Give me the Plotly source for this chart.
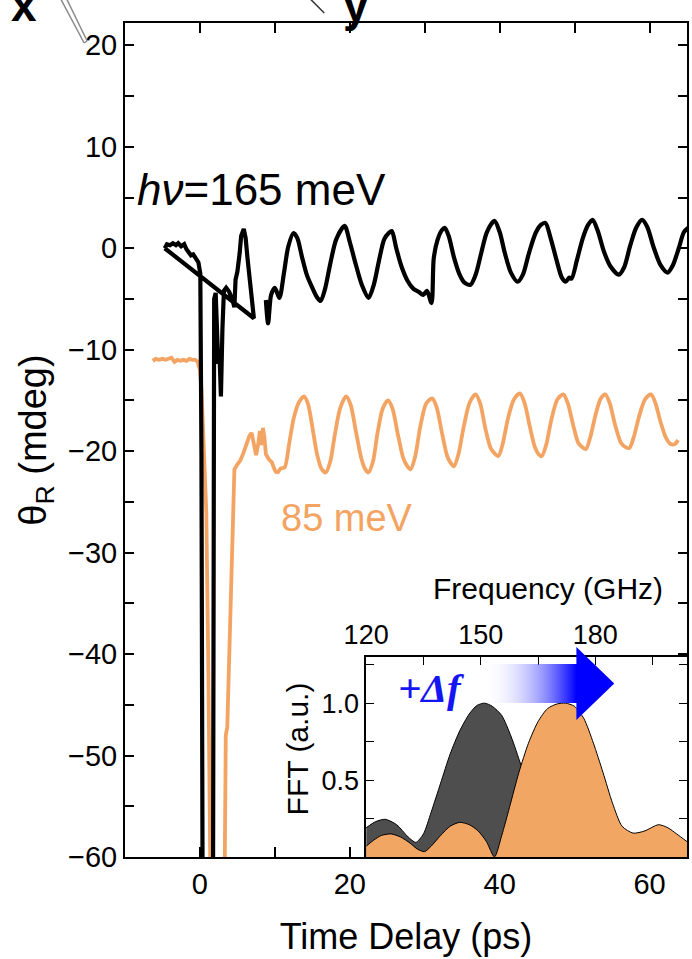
import base64
import plotly.graph_objects as go

# ---------------- time-domain Kerr rotation (ps, mdeg) ----------------
# 165 meV pump: first segment (closes back on itself as recorded)
t_165a = [-4.7, -4.4, -4.0, -3.6, -3.2, -2.9, -2.5, -2.1, -1.8, -1.5, -1.2, -0.9,
          -0.5, -0.2, 0.05, 0.2, 0.35, 1.75, 1.9, 2.1, 2.3, 2.45, 2.6, 2.8, 3.0,
          3.2, 3.5, 3.9, 4.3, 4.6, 4.75, 5.0, 5.3, 5.5, 5.85, 6.1, 6.35, 6.6,
          6.9, 7.2, -4.7]
y_165a = [0.0, 0.4, 0.3, 0.5, 0.3, 0.5, 0.2, 0.4, -0.1, -0.5, -0.7, -0.6,
          -1.0, -1.4, -2.5, -20.0, -62.0, -62.0, -5.0, -4.4, -8.5, -11.4, -10.2,
          -14.6, -8.0, -4.2, -3.9, -4.3, -5.0, -5.8, -3.1, -2.3, -0.5, 1.2, 1.9,
          1.0, -1.0, -3.0, -5.2, -6.9, 0.0]

# 165 meV pump: oscillating tail
t_165b = [8.8, 9.1, 9.5, 10.0, 10.6, 11.2, 11.8, 12.5, 13.0, 13.6, 14.3, 15.0,
          15.6, 16.1, 16.7, 17.4, 18.2, 19.3, 20.0, 20.8, 21.6, 22.5, 23.2, 23.9,
          24.6, 25.2, 25.6, 26.2, 26.9, 27.7, 28.5, 29.2, 29.8, 30.3, 30.9, 31.2,
          31.7, 32.3, 32.7, 33.2, 33.9, 34.6, 35.3, 36.1, 36.8, 37.5, 38.3, 39.3,
          40.0, 40.7, 41.5, 42.4, 43.1, 43.9, 44.8, 45.5, 46.1, 46.8, 47.6, 48.3,
          48.8, 49.3, 49.6, 50.3, 51.1, 51.8, 52.4, 53.1, 53.9, 54.8, 55.9, 56.6,
          57.4, 58.2, 59.0, 59.7, 60.5, 61.5, 62.4, 63.1, 63.9, 64.6, 65.3]
y_165b = [-5.1, -7.4, -4.6, -3.9, -4.9, -2.5, 0.2, 1.5, 1.0, -0.8, -2.7, -3.9,
          -4.8, -5.2, -4.0, -1.5, 0.9, 2.2, 0.6, -1.6, -3.6, -4.9, -3.6, -1.2,
          0.9, 1.5, 1.7, 0.0, -1.8, -3.2, -4.0, -4.3, -4.6, -4.2, -5.4, -1.0,
          0.8, 1.8, 2.0, 1.2, -0.9, -2.5, -3.4, -3.6, -2.6, -0.6, 1.6, 2.7,
          1.6, -0.5, -2.4, -3.3, -2.6, -0.5, 1.5, 2.3, 2.5, 1.0, -1.2, -2.9,
          -3.3, -2.9, -3.0, -1.2, 1.0, 2.3, 2.8, 1.7, -0.3, -1.8, -2.6, -1.9,
          0.2, 2.0, 2.8, 2.1, 0.2, -1.7, -2.4, -1.7, 0.0, 1.6, 2.1]

# 85 meV pump: baseline, pump spike and recovery
t_85a = [-6.3, -5.9, -5.5, -5.0, -4.6, -4.2, -3.8, -3.4, -3.0, -2.6, -2.2, -1.8,
         -1.4, -1.0, -0.6, -0.3, 0.0, 0.2, 0.35, 0.6, 0.85, 1.1, 1.4, 3.3, 3.45,
         3.65, 3.9, 4.2, 4.35, 4.45, 4.6, 5.0, 5.4, 5.8, 6.2, 6.6, 6.9, 7.2, 7.5,
         7.8, 8.0, 8.2, 8.4, 8.6, 8.8, 9.2, 9.6, 10.0, 10.3]
y_85a = [-11.1, -10.9, -11.0, -10.9, -11.0, -10.9, -10.8, -11.2, -11.0, -11.1,
         -11.0, -11.1, -10.9, -11.0, -11.0, -11.2, -12.0, -13.8, -16.4, -21.0,
         -26.0, -40.0, -62.0, -62.0, -48.0, -47.2, -40.0, -30.0, -25.5, -23.6,
         -21.8, -21.3, -20.9, -20.2, -19.2, -18.5, -18.2, -19.4, -20.4, -19.2,
         -18.0, -19.4, -17.7, -18.6, -20.3, -20.8, -21.1, -21.9, -22.2]

# 85 meV pump: oscillating tail
t_85b = [10.3, 10.8, 11.3, 11.9, 12.5, 13.2, 13.9, 14.4, 15.0, 15.6, 16.2, 16.8,
         17.4, 18.0, 18.7, 19.5, 20.1, 20.8, 21.5, 22.0, 22.5, 23.1, 23.7, 24.4,
         25.1, 25.7, 26.4, 27.1, 27.6, 28.1, 28.7, 29.4, 30.2, 31.0, 31.6, 32.3,
         33.0, 33.5, 33.9, 34.5, 35.2, 36.0, 36.8, 37.4, 38.1, 38.8, 39.3, 39.8,
         40.4, 41.1, 41.9, 42.7, 43.3, 44.0, 44.7, 45.2, 45.6, 46.2, 46.9, 47.7,
         48.5, 49.1, 49.8, 50.5, 51.0, 51.5, 52.1, 52.8, 53.5, 54.1, 54.7, 55.4,
         56.2, 56.8, 57.3, 57.9, 58.6, 59.4, 60.2, 60.8, 61.5, 62.2, 62.8, 63.4,
         63.8]
y_85b = [-22.2, -21.7, -21.6, -19.3, -16.8, -15.2, -14.6, -15.3, -17.6, -20.2,
         -21.7, -22.1, -21.0, -18.4, -15.8, -14.6, -15.4, -18.0, -20.6, -21.7,
         -22.1, -21.0, -18.2, -15.8, -15.0, -15.8, -18.3, -20.6, -21.4, -21.8,
         -20.6, -17.6, -15.3, -14.8, -15.7, -18.2, -20.5, -21.2, -21.5, -20.3,
         -17.6, -15.2, -14.4, -15.3, -17.8, -19.7, -20.2, -20.5, -19.3, -16.8,
         -14.9, -14.3, -15.2, -17.5, -19.6, -20.3, -20.5, -19.4, -16.9, -14.9,
         -14.4, -15.3, -17.4, -19.2, -19.6, -19.8, -18.6, -16.4, -14.8, -14.4,
         -15.3, -17.4, -19.2, -19.6, -19.7, -18.6, -16.6, -14.9, -14.4, -15.3,
         -17.2, -18.7, -19.3, -19.3, -18.9]

# ---------------- FFT spectra (GHz, normalised) ----------------
f_165 = [120, 122.5, 125, 128, 131, 133, 135, 137, 139.5, 142, 144.5, 147, 149,
         151, 153, 155.5, 158, 160.5, 163, 165.5, 168, 171, 174, 177, 180, 184,
         188, 192, 196, 200, 204]
a_165 = [0.19, 0.23, 0.245, 0.21, 0.13, 0.095, 0.15, 0.29, 0.48, 0.67, 0.82, 0.93,
         0.985, 1.0, 0.98, 0.92, 0.78, 0.60, 0.42, 0.23, 0.10, 0.05, 0.08, 0.11,
         0.09, 0.05, 0.08, 0.10, 0.06, 0.05, 0.07]
f_85 = [120, 122, 124, 126.5, 129, 131.5, 133.5, 135.3, 137, 139.5, 142, 144.5,
        147, 149.3, 151.5, 153.6, 155.5, 157.5, 160, 162.5, 165, 167.5, 170, 172.2,
        174.5, 177, 179.5, 182, 184.5, 187, 189.9, 193, 196.5, 199, 201.3, 204]
a_85 = [0.07, 0.11, 0.14, 0.15, 0.13, 0.09, 0.05, 0.035, 0.07, 0.14, 0.20, 0.225,
        0.21, 0.17, 0.10, 0.0, 0.14, 0.32, 0.55, 0.74, 0.88, 0.965, 0.995, 1.0,
        0.98, 0.90, 0.74, 0.55, 0.35, 0.20, 0.155, 0.17, 0.21, 0.19, 0.15, 0.10]

# axis tick definitions
x_major = [0, 20, 40, 60]
y_major = [-60, -50, -40, -30, -20, -10, 0, 10, 20]
y_right = [-40, -35, -30, -25, -20, -15, -10, -5, 0, 5, 10, 15, 20]
f_major = [120, 150, 180]
f_minor = [135, 165, 195]
a_major = [0.5, 1.0]
a_minor = [0.25, 0.75, 1.25]

BLACK = "#000000"
ORANGE = "#F4A462"
DARK = "#4E4E4E"
FONT = "Liberation Sans, Arial, sans-serif"

W, H = 692, 959
ML, MR, MT, MB = 125, 3, 23, 102
PW, PH = W - ML - MR, H - MT - MB


def px_x(px):
    return (px - ML) / PW


def px_y(py):
    return (H - MB - py) / PH


fig = go.Figure()

fig.add_trace(go.Scatter(x=t_85a, y=y_85a, mode="lines",
                         line=dict(color=ORANGE, width=3.8), showlegend=False))
fig.add_trace(go.Scatter(x=t_85b, y=y_85b, mode="lines",
                         line=dict(color=ORANGE, width=3.8, shape="spline", smoothing=0.8),
                         showlegend=False))
fig.add_trace(go.Scatter(x=t_165a, y=y_165a, mode="lines",
                         line=dict(color=BLACK, width=4.2), showlegend=False))
fig.add_trace(go.Scatter(x=t_165b, y=y_165b, mode="lines",
                         line=dict(color=BLACK, width=4.2, shape="spline", smoothing=0.8),
                         showlegend=False))
# right-hand tick column of the main frame
fig.add_trace(go.Scatter(x=[], y=[], yaxis="y3", showlegend=False))

# inset spectra
fig.add_trace(go.Scatter(x=f_165, y=a_165, mode="lines", xaxis="x2", yaxis="y2",
                         fill="tozeroy", fillcolor=DARK,
                         line=dict(color=BLACK, width=1, shape="spline", smoothing=0.7),
                         showlegend=False))
fig.add_trace(go.Scatter(x=f_85, y=a_85, mode="lines", xaxis="x2", yaxis="y2",
                         fill="tozeroy", fillcolor="#F2A664",
                         line=dict(color=BLACK, width=1, shape="spline", smoothing=0.7),
                         showlegend=False))

tickfont = dict(family=FONT, size=29, color="black")
inset_font = dict(family=FONT, size=27, color="black")

fig.update_layout(
    width=W, height=H, autosize=False,
    margin=dict(l=ML, r=MR, t=MT, b=MB),
    paper_bgcolor="white", plot_bgcolor="rgba(0,0,0,0)",
    font=dict(family=FONT, color="black"),
    xaxis=dict(
        domain=[0, 1], range=[-10, 65], tickvals=x_major, ticks="inside",
        ticklen=10, tickwidth=1.5, tickcolor="black",
        minor=dict(dtick=10, tick0=0, ticks="inside", ticklen=10, tickwidth=1.5,
                   tickcolor="black"),
        showline=True, linecolor="black", linewidth=2, mirror="ticks",
        showgrid=False, zeroline=False, tickfont=tickfont,
        title=dict(text="Time Delay (ps)", font=dict(family=FONT, size=36),
                   standoff=25),
    ),
    yaxis=dict(
        domain=[0, 1], range=[-60, 22.2], tickvals=y_major, ticks="inside",
        ticklen=9, tickwidth=1.5, tickcolor="black",
        minor=dict(dtick=5, tick0=0, ticks="inside", ticklen=9, tickwidth=1.5,
                   tickcolor="black"),
        showline=True, linecolor="black", linewidth=2, mirror=True,
        showgrid=False, zeroline=False, tickfont=tickfont,
        title=dict(text="θ<sub>R</sub> (mdeg)", font=dict(family=FONT, size=38),
                   standoff=10),
    ),
    yaxis3=dict(
        overlaying="y", side="right", anchor="x", range=[-60, 22.2],
        tickvals=y_right, ticks="inside", ticklen=9, tickwidth=1.5,
        tickcolor="black", showticklabels=False, showline=False,
        showgrid=False, zeroline=False,
    ),
    xaxis2=dict(
        domain=[px_x(367), 1.0], anchor="y2", side="top", range=[120, 204],
        tickvals=f_major, ticks="inside", ticklen=8, tickwidth=1.3,
        tickcolor="black",
        minor=dict(tickvals=f_minor, ticks="inside", ticklen=8, tickwidth=1.3,
                   tickcolor="black"),
        showline=True, linecolor="black", linewidth=1.5, mirror=True,
        showgrid=False, zeroline=False, tickfont=inset_font,
    ),
    yaxis2=dict(
        domain=[0, px_y(657)], anchor="x2", range=[0, 1.3],
        tickvals=a_major, ticktext=["0.5", "1.0"], ticks="inside", ticklen=8,
        tickwidth=1.3, tickcolor="black",
        minor=dict(tickvals=a_minor, ticks="inside", ticklen=8, tickwidth=1.3,
                   tickcolor="black"),
        showline=True, linecolor="black", linewidth=1.5, mirror="ticks",
        showgrid=False, zeroline=False, tickfont=inset_font,
    ),
)

# inset axis titles
fig.add_annotation(x=px_x(550), y=px_y(588), xref="paper", yref="paper",
                   xanchor="center", yanchor="middle", showarrow=False,
                   text="Frequency (GHz)",
                   font=dict(family=FONT, size=30, color="black"))
fig.add_annotation(x=px_x(298), y=px_y(749), xref="paper", yref="paper",
                   xanchor="center", yanchor="middle", showarrow=False,
                   text="FFT (a.u.)", textangle=-90,
                   font=dict(family=FONT, size=30, color="black"))

# curve labels
fig.add_annotation(x=-8.6, y=5.8, xref="x", yref="y", xanchor="left",
                   yanchor="middle", showarrow=False,
                   text="<i>hν</i>=165 meV",
                   font=dict(family=FONT, size=44, color=BLACK))
fig.add_annotation(x=19.6, y=-26.6, xref="x", yref="y", xanchor="center",
                   yanchor="middle", showarrow=False, text="85 meV",
                   font=dict(family=FONT, size=38, color=ORANGE))

# gradient arrow marking the frequency shift
arrow_svg = (
    '<svg xmlns="http://www.w3.org/2000/svg" width="146" height="76" '
    'viewBox="0 0 146 76"><defs><linearGradient id="g" x1="0" y1="0" x2="146" '
    'y2="0" gradientUnits="userSpaceOnUse">'
    '<stop offset="0.1" stop-color="#ffffff" stop-opacity="0"/>'
    '<stop offset="0.74" stop-color="#0000ff"/>'
    '<stop offset="1" stop-color="#0000ff"/></linearGradient></defs>'
    '<polygon points="0,18 108,18 108,1 146,37.5 108,74 108,57 0,57" '
    'fill="url(#g)"/></svg>'
)
arrow_uri = "data:image/svg+xml;base64," + base64.b64encode(arrow_svg.encode()).decode()
fig.add_layout_image(dict(source=arrow_uri, xref="paper", yref="paper",
                          x=px_x(470), y=px_y(646), sizex=146 / PW, sizey=76 / PH,
                          xanchor="left", yanchor="top", sizing="stretch",
                          layer="above"))
fig.add_annotation(x=px_x(433), y=px_y(688), xref="paper", yref="paper",
                   xanchor="center", yanchor="middle", showarrow=False,
                   text="<b><i>+Δf</i></b>",
                   font=dict(family="Liberation Serif, Times New Roman, serif",
                             size=41, color="#1414F5"))

# fragments of the sample sketch above the frame
fig.add_annotation(x=px_x(24), y=px_y(23), xref="paper", yref="paper",
                   xanchor="center", yanchor="bottom", yshift=-10, showarrow=False,
                   text="<b>x</b>", font=dict(family=FONT, size=46, color="black"))
fig.add_annotation(x=px_x(357), y=px_y(23), xref="paper", yref="paper",
                   xanchor="center", yanchor="bottom", yshift=-10, showarrow=False,
                   text="<b>y</b>", font=dict(family=FONT, size=46, color="black"))
for (x0, y0, x1, y1, col) in [(60, -2, 84, 43, "#8a8a8a"),
                              (66, -2, 87, 41, "#8a8a8a"),
                              (84, 43, 87, 41, "#8a8a8a"),
                              (311, -1, 325, 13, "#333333")]:
    fig.add_shape(type="line", xref="paper", yref="paper",
                  x0=px_x(x0), y0=px_y(y0), x1=px_x(x1), y1=px_y(y1),
                  line=dict(color=col, width=1.5), layer="above")

fig.write_html("out.html")
